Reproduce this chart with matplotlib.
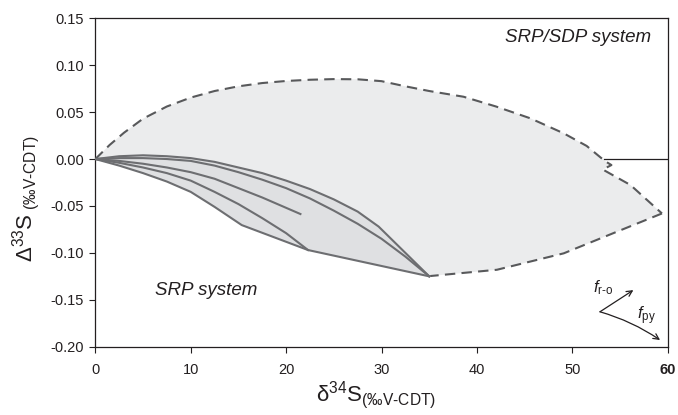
import matplotlib
matplotlib.use("Agg")
import matplotlib.pyplot as plt

plt.rcParams['font.family'] = ['Liberation Sans', 'DejaVu Sans']
plt.rcParams['mathtext.fontset'] = 'custom'
plt.rcParams['mathtext.rm'] = 'Liberation Sans'
plt.rcParams['mathtext.it'] = 'Liberation Sans:italic'
plt.rcParams['mathtext.bf'] = 'Liberation Sans:bold'
plt.rcParams['axes.unicode_minus'] = False

# ---- data ----
# outer (SRP/SDP) envelope, dashed: top arc incl. notch near 53-54
outer_top_x = [0, 1.5, 3.0, 5.0, 7.5, 10.0, 12.5, 15.0, 17.5, 20.0, 22.5, 25.0, 27.5, 30.0, 32.5,
               35.0, 38.6, 42.0, 45.6, 49.1, 51.5, 53.4, 54.1, 53.2, 56.1, 59.4]
outer_top_y = [0, 0.0150, 0.0280, 0.0430, 0.0560, 0.0655, 0.0725, 0.0775, 0.0810, 0.0832, 0.0845,
               0.0852, 0.0850, 0.0830, 0.0775, 0.0725, 0.0664, 0.0560, 0.0434, 0.0274, 0.0140,
               -0.002, -0.0064, -0.0112, -0.0277, -0.058]
# lower dashed arc from the SRP end point to the tip
outer_bot_x = [59.4, 54.3, 49.1, 42.1, 35.1]
outer_bot_y = [-0.058, -0.079, -0.1005, -0.118, -0.1247]

# SRP curves
c1_x = [0, 2.5, 5, 7.5, 10, 12.5, 15, 17.5, 20, 22.5, 25, 27.5, 29.7, 35]
c1_y = [0, 0.003, 0.004, 0.003, 0.001, -0.003, -0.009, -0.015, -0.023, -0.032, -0.043, -0.056, -0.072, -0.125]
c2_x = [0, 2.5, 5, 7.5, 10, 12.5, 15, 17.5, 20, 22.5, 25, 27.5, 30, 32.5, 35]
c2_y = [0, 0.001, 0.001, 0.0, -0.002, -0.007, -0.014, -0.022, -0.031, -0.042, -0.055, -0.069, -0.085, -0.104, -0.125]
c3_x = [0, 2.5, 5, 7.5, 10, 12.5, 15, 17.5, 20, 21.5]
c3_y = [0, -0.002, -0.005, -0.009, -0.014, -0.021, -0.031, -0.041, -0.052, -0.0586]
c4_x = [0, 2.5, 5, 7.5, 10, 12.5, 15, 17.5, 20, 22.3]
c4_y = [0, -0.004, -0.009, -0.015, -0.023, -0.035, -0.048, -0.063, -0.079, -0.097]
c5_x = [0, 2.5, 5, 7.5, 10, 12.5, 15.35, 22.3, 35]
c5_y = [0, -0.007, -0.015, -0.024, -0.035, -0.051, -0.0704, -0.097, -0.125]

zero_line_x = [53.3, 60]
zero_line_y = [0, 0]

arrow_origin = (52.9, -0.1628)
arrow_ro_tip = (56.4, -0.1397)
arrow_py_tip = (59.2, -0.1929)

x_ticks = [0, 10, 20, 30, 40, 50, 60]
y_ticks = [-0.20, -0.15, -0.10, -0.05, 0.00, 0.05, 0.10, 0.15]

# ---- figure ----
fig = plt.figure(figsize=(6.78, 4.15), dpi=100)
ax = fig.add_axes([0.1406, 0.1646, 0.8442, 0.7913])

light = '#ebeced'
mid = '#dfe0e2'
curve_col = '#6d6e71'
dash_col = '#58595b'

# outer fill
poly_x = outer_top_x + outer_bot_x + c5_x[::-1]
poly_y = outer_top_y + outer_bot_y + c5_y[::-1]
ax.fill(poly_x, poly_y, color=light, lw=0, zorder=1)
# inner SRP fill
ax.fill(c1_x + c5_x[::-1], c1_y + c5_y[::-1], color=mid, lw=0, zorder=2)

ax.plot(zero_line_x, zero_line_y, color='#231f20', lw=0.9, zorder=3)

ax.plot(outer_top_x, outer_top_y, color=dash_col, lw=1.5, ls=(0, (5, 3)), zorder=4)
ax.plot(outer_bot_x, outer_bot_y, color=dash_col, lw=1.5, ls=(0, (5, 3)), zorder=4)

for xs, ys in [(c1_x, c1_y), (c2_x, c2_y), (c3_x, c3_y), (c4_x, c4_y), (c5_x, c5_y)]:
    ax.plot(xs, ys, color=curve_col, lw=1.5, zorder=5, solid_joinstyle='miter')

# arrows
ax.annotate('', xy=arrow_ro_tip, xytext=arrow_origin,
            arrowprops=dict(arrowstyle='->', color='#231f20', lw=0.9, shrinkA=0, shrinkB=0,
                            mutation_scale=10))
ax.annotate('', xy=arrow_py_tip, xytext=arrow_origin,
            arrowprops=dict(arrowstyle='->', color='#231f20', lw=0.9, shrinkA=0, shrinkB=0,
                            mutation_scale=10, connectionstyle='arc3,rad=-0.08'))
ax.text(52.2, -0.137, r'$\mathit{f}_{\mathrm{r\text{-}o}}$', fontsize=12, ha='left', va='center', color='#231f20')
ax.text(56.8, -0.167, r'$\mathit{f}_{\mathrm{py}}$', fontsize=12, ha='left', va='center', color='#231f20')

ax.text(58.3, 0.13, 'SRP/SDP system', fontsize=13.5, style='italic', ha='right', va='center', color='#231f20')
ax.text(6.3, -0.14, 'SRP system', fontsize=13.5, style='italic', ha='left', va='center', color='#231f20')

ax.set_xlim(0, 60)
ax.set_ylim(-0.20, 0.15)
ax.set_xticks(x_ticks)
ax.set_yticks(y_ticks)
ax.set_xticklabels([str(t) for t in x_ticks])
ax.set_yticklabels(['%.2f' % t for t in y_ticks])
ax.get_xticklabels()[-1].set_fontweight('bold')
ax.tick_params(axis='both', direction='out', length=4, width=0.8, labelsize=10.5, colors='#231f20', pad=4)
ax.tick_params(axis='x', pad=8)
for s in ax.spines.values():
    s.set_color('#231f20')
    s.set_linewidth(0.9)

ax.set_xlabel(r'$\mathregular{\delta^{34}S_{(‰V\text{-}CDT)}}$', fontsize=16, color='#231f20')
ax.set_ylabel(r'$\mathregular{\Delta^{33}S_{\ (‰V\text{-}CDT)}}$', fontsize=16, color='#231f20')
ax.yaxis.set_label_coords(-0.093, 0.45)
ax.xaxis.set_label_coords(0.49, -0.098)

fig.savefig('out.png', dpi=100)
